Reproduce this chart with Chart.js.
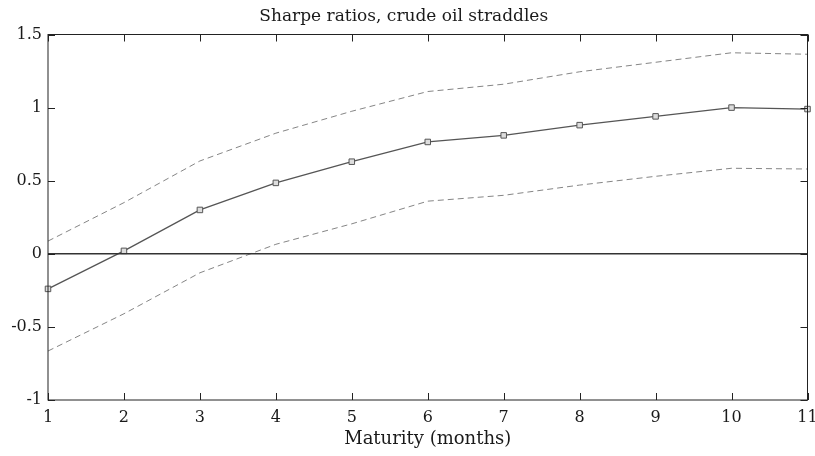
<!DOCTYPE html>
<html>
<head>
<meta charset="utf-8">
<script src="https://cdn.jsdelivr.net/npm/chart.js@4"></script>
<style>
  html, body { margin: 0; padding: 0; background: #fff; }
  #wrap { width: 815px; height: 456px; }
</style>
</head>
<body>
<div id="wrap"><canvas id="chart"></canvas></div>
<script>
// Data
const maturities = [1, 2, 3, 4, 5, 6, 7, 8, 9, 10, 11];
const sharpe = [-0.24, 0.02, 0.30, 0.485, 0.63, 0.765, 0.81, 0.88, 0.94, 1.0, 0.99];
const upperBand = [0.087, 0.35, 0.635, 0.825, 0.975, 1.11, 1.16, 1.245, 1.31, 1.375, 1.365];
const lowerBand = [-0.665, -0.41, -0.13, 0.065, 0.205, 0.36, 0.40, 0.47, 0.53, 0.585, 0.58];
const yTicks = [-1, -0.5, 0, 0.5, 1, 1.5];

const FONT = "'DejaVu Serif', 'Liberation Serif', serif";
const TEXT = '#1a1a1a';

function toPoints(vals) {
    return maturities.map((m, i) => ({ x: m, y: vals[i] }));
}

// Box around the plot and MATLAB-style inward ticks
const boxPlugin = {
    id: 'box',
    afterDatasetsDraw(chart) {
        const { ctx, chartArea: a, scales } = chart;
        ctx.save();
        ctx.strokeStyle = '#222';
        ctx.lineWidth = 1;
        ctx.strokeRect(a.left, a.top, a.right - a.left, a.bottom - a.top);
        const len = 7;
        ctx.beginPath();
        maturities.forEach(m => {
            const x = Math.round(scales.x.getPixelForValue(m)) + 0.5;
            ctx.moveTo(x, a.bottom); ctx.lineTo(x, a.bottom - len);
            ctx.moveTo(x, a.top); ctx.lineTo(x, a.top + len);
        });
        yTicks.forEach(v => {
            const y = Math.round(scales.y.getPixelForValue(v)) + 0.5;
            ctx.moveTo(a.left, y); ctx.lineTo(a.left + len, y);
            ctx.moveTo(a.right, y); ctx.lineTo(a.right - len, y);
        });
        ctx.stroke();
        ctx.restore();
    }
};

const ctx = document.getElementById('chart').getContext('2d');
new Chart(ctx, {
    type: 'line',
    data: {
        datasets: [
            {
                label: 'zero',
                data: [{ x: 1, y: 0 }, { x: 11, y: 0 }],
                borderColor: '#333',
                borderWidth: 1.4,
                pointRadius: 0
            },
            {
                label: 'upper',
                data: toPoints(upperBand),
                borderColor: '#777',
                borderWidth: 0.9,
                borderDash: [6, 4],
                pointRadius: 0
            },
            {
                label: 'lower',
                data: toPoints(lowerBand),
                borderColor: '#777',
                borderWidth: 0.9,
                borderDash: [6, 4],
                pointRadius: 0
            },
            {
                label: 'Sharpe ratio',
                data: toPoints(sharpe),
                borderColor: '#555',
                borderWidth: 1.3,
                clip: false,
                pointStyle: 'rect',
                pointRadius: 3.9,
                pointBorderWidth: 1,
                pointBorderColor: '#555',
                pointBackgroundColor: '#ddd'
            }
        ]
    },
    options: {
        responsive: true,
        maintainAspectRatio: false,
        animation: false,
        layout: { padding: { left: 0, right: 7.5, top: 0, bottom: 0 } },
        scales: {
            x: {
                type: 'linear',
                min: 1,
                max: 11,
                grid: { display: false, drawTicks: false },
                border: { display: false },
                afterFit(scale) {
                    scale.height = 56;
                    scale.paddingLeft = 0;
                    scale.paddingRight = 0;
                },
                ticks: {
                    stepSize: 1,
                    padding: 8,
                    maxRotation: 0,
                    color: TEXT,
                    font: { family: FONT, size: 16 }
                },
                title: {
                    display: true,
                    text: 'Maturity (months)',
                    color: TEXT,
                    padding: { top: 0, bottom: 6 },
                    font: { family: FONT, size: 18 }
                }
            },
            y: {
                min: -1,
                max: 1.5,
                grid: { display: false, drawTicks: false },
                border: { display: false },
                afterFit(scale) { scale.width = 48; },
                ticks: {
                    stepSize: 0.5,
                    padding: 6,
                    color: TEXT,
                    font: { family: FONT, size: 16 },
                    callback: v => String(v)
                }
            }
        },
        plugins: {
            legend: { display: false },
            tooltip: { enabled: false },
            title: {
                display: true,
                text: 'Sharpe ratios, crude oil straddles',
                color: TEXT,
                padding: { top: 6, bottom: 8.1 },
                font: { family: FONT, size: 17, weight: 'normal' }
            }
        }
    },
    plugins: [boxPlugin]
});
</script>
</body>
</html>
